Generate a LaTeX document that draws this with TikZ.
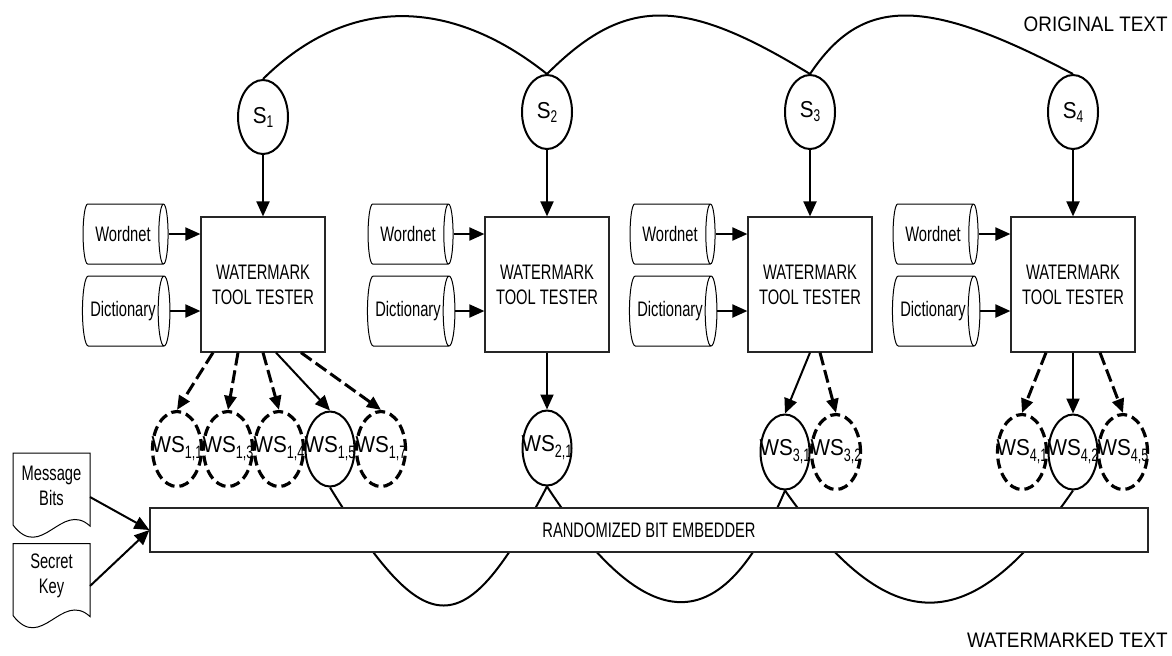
\documentclass[tikz,border=0pt]{standalone}
\usepackage{fontspec}
\setmainfont{Liberation Sans}[FakeStretch=0.7]
\newfontfamily\lblfont{Liberation Sans}[FakeStretch=0.9]
\usetikzlibrary{shapes.geometric,arrows.meta,calc}
\newcommand\ssub[1]{\raisebox{-2pt}{\normalfont\fontsize{8.5}{8.5}\selectfont #1}}
\newcommand\wsub[1]{\raisebox{-3pt}{\normalfont\fontsize{9}{9}\selectfont #1}}
\newcommand\docoutline[1]{%
  \draw[line width=0.5pt] ($(#1.center)+(-38.5,-32.5)$) -- ($(#1.center)+(38.5,-32.5)$)
    -- ($(#1.center)+(38.5,40.5)$)
    .. controls ($(#1.center)+(10,14.6)$) and ($(#1.center)+(-10,76.7)$) .. ($(#1.center)+(-38.5,39.5)$)
    -- cycle;}
\tikzset{
  tbox/.style={draw=black!85, line width=0.6pt, minimum width=62pt, minimum height=67.5pt,
    align=center, inner sep=0pt, font=\fontsize{10.5}{12.5}\selectfont},
  sent/.style={ellipse, draw, line width=1pt, minimum width=25pt, minimum height=37pt,
    inner sep=0pt, font=\lblfont\fontsize{11.5}{11.5}\selectfont},
  wsol/.style={ellipse, draw, line width=1pt, minimum width=24.5pt, minimum height=37.5pt,
    inner sep=0pt, font=\lblfont\fontsize{11.5}{11.5}\selectfont},
  wdash/.style={wsol, line width=1.6pt, dash pattern=on 5pt off 2.5pt},
  store/.style={cylinder, draw, line width=0.5pt, aspect=0.6, minimum height=42.5pt,
    inner xsep=1pt, inner ysep=0pt, font=\fontsize{10.5}{12}\selectfont},
  arr/.style={line width=1pt, -{Triangle[length=7.5pt,width=6.5pt]}},
  darr/.style={line width=1.5pt, dash pattern=on 6.5pt off 2.5pt, -{Triangle[length=7pt,width=6pt]}},
  flow/.style={line width=1pt},
  lbl/.style={inner sep=0pt, font=\lblfont\fontsize{10.5}{12}\selectfont},
  doctext/.style={align=center, inner sep=0pt, font=\fontsize{10.5}{12.5}\selectfont},
  embox/.style={draw=black!85, line width=0.6pt, fill=white, minimum width=499pt,
    minimum height=22pt, inner sep=0pt, font=\fontsize{10.5}{12}\selectfont}
}
\begin{document}
\begin{tikzpicture}[x=0.5pt,y=-0.5pt]
\fill[white] (0,0) rectangle (1172,655);
\useasboundingbox (0,0) rectangle (1172,655);

% labels
\node[lbl, anchor=east] (orig) at (1168,24) {ORIGINAL TEXT};
\node[lbl, anchor=east] (wmt) at (1168,640) {WATERMARKED TEXT};

% sentences
\node[sent] (s1) at (263,117) {S\ssub{1}};
\node[sent] (s2) at (547,112) {S\ssub{2}};
\node[sent] (s3) at (810,112) {S\ssub{3}};
\node[sent] (s4) at (1073,112) {S\ssub{4}};

\draw[flow] (s1.north) .. controls (347,-4) and (449,-4) .. (s2.north);
\draw[flow] (s2.north) .. controls (625,-4) and (683,-4) .. (s3.north);
\draw[flow] (s3.north) .. controls (862,-4) and (925,-4) .. (s4.north);

% tester boxes
\node[tbox] (b1) at (263,284.5) {WATERMARK\\TOOL TESTER};
\node[tbox] (b2) at (547,284.5) {WATERMARK\\TOOL TESTER};
\node[tbox] (b3) at (810,284.5) {WATERMARK\\TOOL TESTER};
\node[tbox] (b4) at (1073,284.5) {WATERMARK\\TOOL TESTER};

\foreach \i in {1,2,3,4} \draw[arr] (s\i.south) -- (b\i.north);

% stores
\node[store, minimum width=30pt] (w1) at (123,234) {Wordnet};
\node[store, minimum width=35pt] (d1) at (123,311) {Dictionary};
\node[store, minimum width=30pt] (w2) at (408,234) {Wordnet};
\node[store, minimum width=35pt] (d2) at (408,311) {Dictionary};
\node[store, minimum width=30pt] (w3) at (670,234) {Wordnet};
\node[store, minimum width=35pt] (d3) at (670,311) {Dictionary};
\node[store, minimum width=30pt] (w4) at (933,234) {Wordnet};
\node[store, minimum width=35pt] (d4) at (933,311) {Dictionary};
\foreach \i in {1,2,3,4} {
  \draw[arr] (w\i.east) -- (b\i.west |- w\i.east);
  \draw[arr] (d\i.east) -- (b\i.west |- d\i.east);
}

% watermarked sentences
\node[wdash] (ws11) at (177,449) {\makebox[0pt]{WS\wsub{1,1}}};
\node[wdash] (ws13) at (228,449) {\makebox[0pt]{WS\wsub{1,3}}};
\node[wdash] (ws14) at (279,449) {\makebox[0pt]{WS\wsub{1,4}}};
\node[wsol]  (ws15) at (330,449) {\makebox[0pt]{WS\wsub{1,5}}};
\node[wdash] (ws17) at (381,449) {\makebox[0pt]{WS\wsub{1,7}}};
\node[wsol]  (ws21) at (547,448) {\makebox[0pt]{WS\wsub{2,1}}};
\node[wsol]  (ws31) at (785,452) {\makebox[0pt]{WS\wsub{3,1}}};
\node[wdash] (ws32) at (836,452) {\makebox[0pt]{WS\wsub{3,2}}};
\node[wdash] (ws41) at (1022,452) {\makebox[0pt]{WS\wsub{4,1}}};
\node[wsol]  (ws42) at (1073,452) {\makebox[0pt]{WS\wsub{4,2}}};
\node[wdash] (ws45) at (1123,452) {\makebox[0pt]{WS\wsub{4,5}}};

\draw[darr] ($(b1.south)+(-50,0)$) -- (ws11.north);
\draw[darr] ($(b1.south)+(-25,0)$) -- (ws13.north);
\draw[darr] (b1.south) -- (ws14.north);
\draw[arr]  ($(b1.south)+(13,0)$) -- (ws15.north);
\draw[darr] ($(b1.south)+(38,0)$) -- (ws17.north);
\draw[arr]  (b2.south) -- (ws21.north);
\draw[arr]  (b3.south) -- (ws31.north);
\draw[darr] ($(b3.south)+(10,0)$) -- (ws32.north);
\draw[darr] ($(b4.south)+(-27,0)$) -- (ws41.north);
\draw[arr]  (b4.south) -- (ws42.north);
\draw[darr] ($(b4.south)+(27,0)$) -- (ws45.north);

% watermarked text flow (behind embedder)
\draw[flow] (ws15.south) .. controls (427,645) and (464,645) .. (ws21.south);
\draw[flow] (ws21.south) .. controls (648,640) and (722,640) .. (ws31.south);
\draw[flow] (ws31.south) .. controls (890,640) and (970,640) .. (ws42.south);

% embedder
\node[embox] (emb) at (649,530) {RANDOMIZED BIT EMBEDDER};

% message bits and secret key
\node[doctext] (mb) at (51.5,485.5) {Message\\Bits};
\docoutline{mb}
\node[doctext] (sk) at (51.5,576) {Secret\\Key};
\docoutline{sk}
\draw[arr] ($(mb.center)+(38.5,11.5)$) -- (emb.west);
\draw[arr] ($(sk.center)+(38.5,10)$) -- (emb.west);
\end{tikzpicture}
\end{document}
